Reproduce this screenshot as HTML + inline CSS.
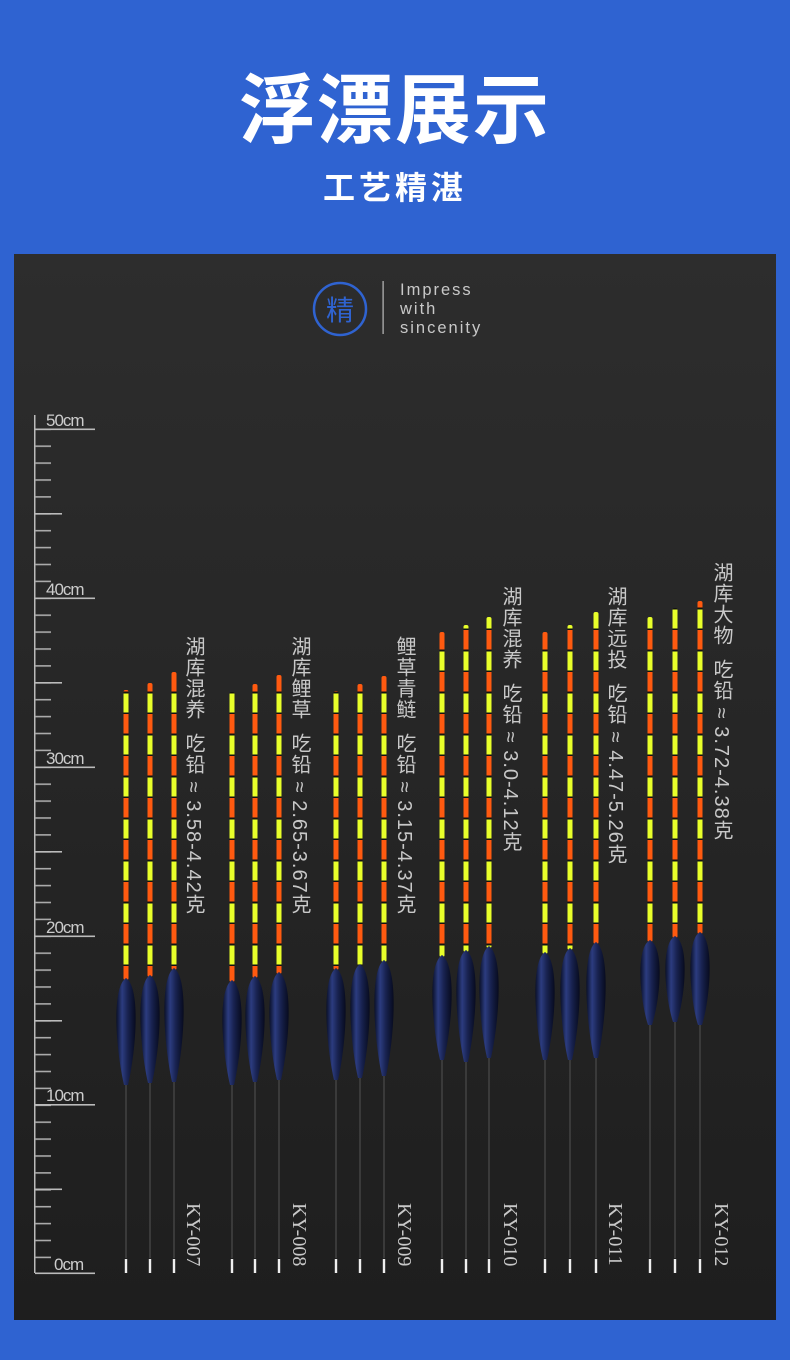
<!DOCTYPE html>
<html><head><meta charset="utf-8">
<style>
body{margin:0;width:790px;height:1360px;background:#2f63d1;position:relative;overflow:hidden;font-family:"Liberation Sans","Noto Sans CJK SC",sans-serif}
.t1{position:absolute;left:0;width:790px;top:68px;text-align:center;color:#fff;font-size:76px;font-weight:bold;line-height:88px;letter-spacing:2px}
.t2{position:absolute;left:0;width:790px;top:168px;text-align:center;color:#fff;font-size:32px;font-weight:bold;line-height:40px;letter-spacing:4px}
.panel{position:absolute;left:14px;top:254px;width:762px;height:1066px;background:linear-gradient(#2d2d2d,#1e1e1e)}
.lab{position:absolute;writing-mode:vertical-rl;color:#c8c8c8;font-size:20px;line-height:22px;letter-spacing:1px;font-family:"Liberation Sans","Noto Sans CJK SC",sans-serif}
.ky{position:absolute;writing-mode:vertical-rl;color:#c8c8c8;font-size:20px;line-height:22px;font-family:"Liberation Serif",serif;top:1203px}
</style></head><body>
<div class="t1">浮漂展示</div>
<div class="t2">工艺精湛</div>
<div class="panel"></div>
<svg width="790" height="1360" style="position:absolute;left:0;top:0">
<defs>
<pattern id="tk" patternUnits="userSpaceOnUse" x="35" width="40" height="16.9" y="428.5">
<rect x="0" y="0" width="16" height="1.6" fill="#aaa"/>
</pattern>
<linearGradient id="bd2" x1="0" x2="1"><stop offset="0" stop-color="#0a1028"/><stop offset="0.3" stop-color="#2c3c80"/><stop offset="0.6" stop-color="#18224f"/><stop offset="1" stop-color="#070b1e"/></linearGradient>
<pattern id="ant2" patternUnits="userSpaceOnUse" width="10" height="42">
<rect x="0" y="0" width="10" height="21" fill="#ff5a10"/>
<rect x="0" y="21" width="10" height="21" fill="#e8ff2a"/>
<rect x="0" y="19.5" width="10" height="2" fill="#111"/>
<rect x="0" y="40.5" width="10" height="2" fill="#111"/>
</pattern>
</defs>
<circle cx="340" cy="309" r="26" fill="none" stroke="#2f63d1" stroke-width="2.5"/>
<text x="340" y="320" text-anchor="middle" fill="#2f63d1" font-size="28" font-family="Noto Sans CJK SC,sans-serif">精</text>
<rect x="382.5" y="281" width="1.2" height="53" fill="#bbb"/>
<g fill="#c8c8c8" font-size="16.5" font-family="Liberation Sans,sans-serif" letter-spacing="2">
<text x="400" y="295">Impress</text><text x="400" y="314">with</text><text x="400" y="333">sincenity</text></g>
<rect x="34" y="415" width="1.5" height="858" fill="#bbb"/>
<rect x="35" y="428" width="16" height="846" fill="url(#tk)"/>
<g fill="#bbb">
<rect x="35" y="428.5" width="60" height="1.6"/><rect x="35" y="597.5" width="60" height="1.6"/><rect x="35" y="766.5" width="60" height="1.6"/><rect x="35" y="935.5" width="60" height="1.6"/><rect x="35" y="1104" width="60" height="1.6"/><rect x="35" y="1272.5" width="60" height="1.6"/>
<rect x="35" y="513" width="27" height="1.6"/><rect x="35" y="682" width="27" height="1.6"/><rect x="35" y="851" width="27" height="1.6"/><rect x="35" y="1020" width="27" height="1.6"/><rect x="35" y="1188.5" width="27" height="1.6"/>
</g>
<g fill="#ccc" font-size="17" font-family="Liberation Sans,sans-serif" letter-spacing="-1">
<text x="46" y="426">50cm</text><text x="46" y="595">40cm</text><text x="46" y="764">30cm</text><text x="46" y="933">20cm</text><text x="46" y="1101">10cm</text><text x="54" y="1270">0cm</text></g>

<g transform="translate(126,0)"><rect x="-1" y="1080" width="2" height="178" fill="#3a3a3a"/><rect x="-1.2" y="1259" width="2.4" height="14" fill="#eee"/><rect x="-2.5" y="690" width="5" height="290" rx="2" fill="url(#ant2)"/><path d="M0,978 C15,988 10,1050 2,1085 L-2,1085 C-10,1050 -15,988 0,978Z" fill="url(#bd2)"/></g>
<g transform="translate(150,0)"><rect x="-1" y="1078" width="2" height="180" fill="#3a3a3a"/><rect x="-1.2" y="1259" width="2.4" height="14" fill="#eee"/><rect x="-2.5" y="683" width="5" height="294" rx="2" fill="url(#ant2)"/><path d="M0,975 C15,985 10,1048 2,1083 L-2,1083 C-10,1048 -15,985 0,975Z" fill="url(#bd2)"/></g>
<g transform="translate(174,0)"><rect x="-1" y="1078" width="2" height="180" fill="#3a3a3a"/><rect x="-1.2" y="1259" width="2.4" height="14" fill="#eee"/><rect x="-2.5" y="672" width="5" height="298" rx="2" fill="url(#ant2)"/><path d="M0,968 C15,978 10,1045 2,1082 L-2,1082 C-10,1045 -15,978 0,968Z" fill="url(#bd2)"/></g>
<g transform="translate(232,0)"><rect x="-1" y="1080" width="2" height="178" fill="#3a3a3a"/><rect x="-1.2" y="1259" width="2.4" height="14" fill="#eee"/><rect x="-2.5" y="692" width="5" height="290" rx="2" fill="url(#ant2)"/><path d="M0,980 C15,990 10,1050 2,1085 L-2,1085 C-10,1050 -15,990 0,980Z" fill="url(#bd2)"/></g>
<g transform="translate(255,0)"><rect x="-1" y="1078" width="2" height="180" fill="#3a3a3a"/><rect x="-1.2" y="1259" width="2.4" height="14" fill="#eee"/><rect x="-2.5" y="684" width="5" height="294" rx="2" fill="url(#ant2)"/><path d="M0,976 C15,986 10,1048 2,1082 L-2,1082 C-10,1048 -15,986 0,976Z" fill="url(#bd2)"/></g>
<g transform="translate(279,0)"><rect x="-1" y="1076" width="2" height="182" fill="#3a3a3a"/><rect x="-1.2" y="1259" width="2.4" height="14" fill="#eee"/><rect x="-2.5" y="675" width="5" height="299" rx="2" fill="url(#ant2)"/><path d="M0,972 C15,982 10,1045 2,1080 L-2,1080 C-10,1045 -15,982 0,972Z" fill="url(#bd2)"/></g>
<g transform="translate(336,0)"><rect x="-1" y="1076" width="2" height="182" fill="#3a3a3a"/><rect x="-1.2" y="1259" width="2.4" height="14" fill="#eee"/><rect x="-2.5" y="691" width="5" height="279" rx="2" fill="url(#ant2)"/><path d="M0,968 C15,978 10,1045 2,1080 L-2,1080 C-10,1045 -15,978 0,968Z" fill="url(#bd2)"/></g>
<g transform="translate(360,0)"><rect x="-1" y="1074" width="2" height="184" fill="#3a3a3a"/><rect x="-1.2" y="1259" width="2.4" height="14" fill="#eee"/><rect x="-2.5" y="684" width="5" height="282" rx="2" fill="url(#ant2)"/><path d="M0,964 C15,974 10,1043 2,1078 L-2,1078 C-10,1043 -15,974 0,964Z" fill="url(#bd2)"/></g>
<g transform="translate(384,0)"><rect x="-1" y="1072" width="2" height="186" fill="#3a3a3a"/><rect x="-1.2" y="1259" width="2.4" height="14" fill="#eee"/><rect x="-2.5" y="676" width="5" height="286" rx="2" fill="url(#ant2)"/><path d="M0,960 C15,970 10,1040 2,1076 L-2,1076 C-10,1040 -15,970 0,960Z" fill="url(#bd2)"/></g>
<g transform="translate(442,0)"><rect x="-1" y="1056" width="2" height="202" fill="#3a3a3a"/><rect x="-1.2" y="1259" width="2.4" height="14" fill="#eee"/><rect x="-2.5" y="632" width="5" height="325" rx="2" fill="url(#ant2)"/><path d="M0,955 C15,965 10,1025 2,1060 L-2,1060 C-10,1025 -15,965 0,955Z" fill="url(#bd2)"/></g>
<g transform="translate(466,0)"><rect x="-1" y="1058" width="2" height="200" fill="#3a3a3a"/><rect x="-1.2" y="1259" width="2.4" height="14" fill="#eee"/><rect x="-2.5" y="625" width="5" height="327" rx="2" fill="url(#ant2)"/><path d="M0,950 C15,960 10,1025 2,1062 L-2,1062 C-10,1025 -15,960 0,950Z" fill="url(#bd2)"/></g>
<g transform="translate(489,0)"><rect x="-1" y="1054" width="2" height="204" fill="#3a3a3a"/><rect x="-1.2" y="1259" width="2.4" height="14" fill="#eee"/><rect x="-2.5" y="617" width="5" height="331" rx="2" fill="url(#ant2)"/><path d="M0,946 C15,956 10,1022 2,1058 L-2,1058 C-10,1022 -15,956 0,946Z" fill="url(#bd2)"/></g>
<g transform="translate(545,0)"><rect x="-1" y="1056" width="2" height="202" fill="#3a3a3a"/><rect x="-1.2" y="1259" width="2.4" height="14" fill="#eee"/><rect x="-2.5" y="632" width="5" height="322" rx="2" fill="url(#ant2)"/><path d="M0,952 C15,962 10,1025 2,1060 L-2,1060 C-10,1025 -15,962 0,952Z" fill="url(#bd2)"/></g>
<g transform="translate(570,0)"><rect x="-1" y="1056" width="2" height="202" fill="#3a3a3a"/><rect x="-1.2" y="1259" width="2.4" height="14" fill="#eee"/><rect x="-2.5" y="625" width="5" height="325" rx="2" fill="url(#ant2)"/><path d="M0,948 C15,958 10,1025 2,1060 L-2,1060 C-10,1025 -15,958 0,948Z" fill="url(#bd2)"/></g>
<g transform="translate(596,0)"><rect x="-1" y="1054" width="2" height="204" fill="#3a3a3a"/><rect x="-1.2" y="1259" width="2.4" height="14" fill="#eee"/><rect x="-2.5" y="612" width="5" height="332" rx="2" fill="url(#ant2)"/><path d="M0,942 C15,952 10,1022 2,1058 L-2,1058 C-10,1022 -15,952 0,942Z" fill="url(#bd2)"/></g>
<g transform="translate(650,0)"><rect x="-1" y="1022" width="2" height="236" fill="#3a3a3a"/><rect x="-1.2" y="1259" width="2.4" height="14" fill="#eee"/><rect x="-2.5" y="617" width="5" height="325" rx="2" fill="url(#ant2)"/><path d="M0,940 C15,948 10,1000 2,1025 L-2,1025 C-10,1000 -15,948 0,940Z" fill="url(#bd2)"/></g>
<g transform="translate(675,0)"><rect x="-1" y="1018" width="2" height="240" fill="#3a3a3a"/><rect x="-1.2" y="1259" width="2.4" height="14" fill="#eee"/><rect x="-2.5" y="608" width="5" height="330" rx="2" fill="url(#ant2)"/><path d="M0,936 C15,944 10,997 2,1022 L-2,1022 C-10,997 -15,944 0,936Z" fill="url(#bd2)"/></g>
<g transform="translate(700,0)"><rect x="-1" y="1022" width="2" height="236" fill="#3a3a3a"/><rect x="-1.2" y="1259" width="2.4" height="14" fill="#eee"/><rect x="-2.5" y="601" width="5" height="333" rx="2" fill="url(#ant2)"/><path d="M0,932 C15,940 10,1000 2,1025 L-2,1025 C-10,1000 -15,940 0,932Z" fill="url(#bd2)"/></g>
</svg>
<div class="lab" style="left:182px;top:636px">湖库混养&nbsp;&nbsp;吃铅 ≈ 3.58-4.42克</div>
<div class="lab" style="left:288px;top:636px">湖库鲤草&nbsp;&nbsp;吃铅 ≈ 2.65-3.67克</div>
<div class="lab" style="left:393px;top:636px">鲤草青鲢&nbsp;&nbsp;吃铅 ≈ 3.15-4.37克</div>
<div class="lab" style="left:499px;top:586px">湖库混养&nbsp;&nbsp;吃铅 ≈ 3.0-4.12克</div>
<div class="lab" style="left:604px;top:586px">湖库远投&nbsp;&nbsp;吃铅 ≈ 4.47-5.26克</div>
<div class="lab" style="left:710px;top:562px">湖库大物&nbsp;&nbsp;吃铅 ≈ 3.72-4.38克</div>
<div class="ky" style="left:182px">KY-007</div>
<div class="ky" style="left:288px">KY-008</div>
<div class="ky" style="left:393px">KY-009</div>
<div class="ky" style="left:499px">KY-010</div>
<div class="ky" style="left:604px">KY-011</div>
<div class="ky" style="left:710px">KY-012</div>
</body></html>
